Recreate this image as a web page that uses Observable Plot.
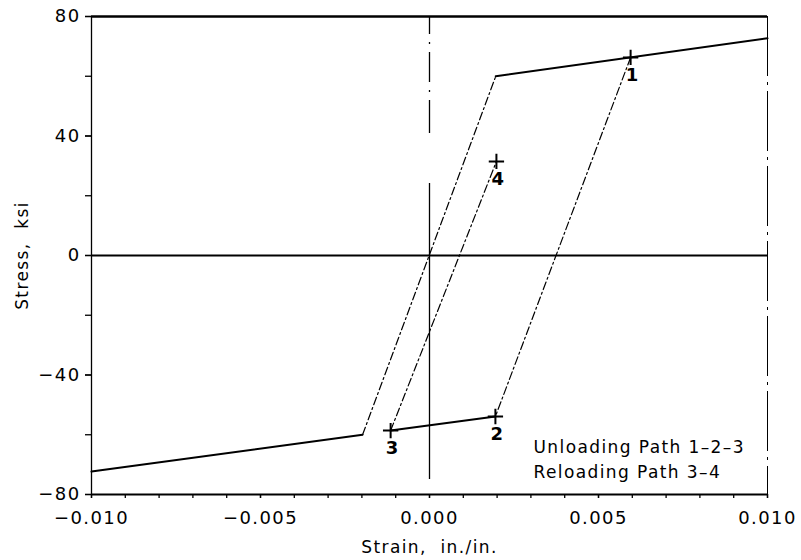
<!DOCTYPE html>
<html>
<head>
<meta charset="utf-8">
<script src="https://cdn.jsdelivr.net/npm/d3@7"></script>
<script src="https://cdn.jsdelivr.net/npm/@observablehq/plot@0.6"></script>
<style>
  html, body { margin: 0; padding: 0; background: #fff; }
  #chart { width: 801px; height: 560px; }
  #chart svg text { letter-spacing: 1.4px; }
</style>
</head>
<body>
<div id="chart"></div>
<script>
// Monotonic (envelope) stress–strain curve of the steel: strain in in./in., stress in ksi
const envelopeStrain = [-0.0100, -0.00198, 0.00196, 0.0100];
const envelopeStress = [-72.3, -60.0, 60.0, 72.7];

// Load-path points: unloading 1-2-3, reloading 3-4
const pathLabels = ["1", "2", "3", "4"];
const pathStrain = [0.00595, 0.00195, -0.00115, 0.00198];
const pathStress = [66.3, -53.9, -58.6, 31.5];

// Axis ticks
const xMajorTicks = [-0.010, -0.005, 0.000, 0.005, 0.010];
const xMinorTicks = [-0.010, -0.009, -0.008, -0.007, -0.006, -0.005, -0.004, -0.003, -0.002, -0.001,
                     0.000, 0.001, 0.002, 0.003, 0.004, 0.005, 0.006, 0.007, 0.008, 0.009, 0.010];
const yMajorTicks = [-80, -40, 0, 40, 80];
const yMinorTicks = [-80, -60, -40, -20, 0, 20, 40, 60, 80];

const xLabel = "Strain,\u00a0 in./in.";
const yLabel = "Stress,\u00a0 ksi";
const noteUnloading = "Unloading Path 1\u20132\u20133";
const noteReloading = "Reloading Path 3\u20134";

const env = envelopeStrain.map((x, i) => ({x, y: envelopeStress[i]}));
const pts = pathStrain.map((x, i) => ({x, y: pathStress[i], label: pathLabels[i]}));

const dashDot = "8,3,2,3";

const chart = Plot.plot({
  width: 801,
  height: 560,
  marginLeft: 91,
  marginRight: 34,
  marginTop: 16,
  marginBottom: 66,
  style: {fontFamily: "'DejaVu Sans', sans-serif", fontSize: "18px", color: "#000", background: "#fff"},
  x: {domain: [-0.01, 0.01]},
  y: {domain: [-80, 80]},
  marks: [
    // tick marks and tick labels
    Plot.axisX({ticks: xMinorTicks, tickSize: 4, tickFormat: () => "", label: null, strokeWidth: 1.3}),
    Plot.axisX({ticks: xMajorTicks, tickSize: 4, tickPadding: 13, tickFormat: d3.format(".3f"), label: null, strokeWidth: 1.3}),
    Plot.axisY({ticks: yMinorTicks, tickSize: 6, tickFormat: () => "", label: null, strokeWidth: 1.3}),
    Plot.axisY({ticks: yMajorTicks, tickSize: 6, tickPadding: 5, tickFormat: d3.format("d"), label: null, strokeWidth: 1.3}),

    // frame: solid top and bottom, solid left axis, dashed right edge
    Plot.ruleY([80], {strokeWidth: 2.5}),
    Plot.ruleY([-80], {strokeWidth: 2}),
    Plot.ruleX([-0.01], {strokeWidth: 1.3}),
    Plot.ruleX([0.01], {strokeWidth: 1, strokeDasharray: "60,6,3,6"}),

    // zero reference lines
    Plot.ruleY([0], {strokeWidth: 2}),
    Plot.ruleX([0], {y1: -75, y2: 80, strokeWidth: 1.3, strokeDasharray: "296,50,33,8,2,8,30,8,2,8,40"}),

    // envelope: plastic branches solid, elastic branch dash-dot
    Plot.line(env.slice(0, 2), {x: "x", y: "y", strokeWidth: 2}),
    Plot.line(env.slice(1, 3), {x: "x", y: "y", strokeWidth: 1.2, strokeDasharray: dashDot}),
    Plot.line(env.slice(2, 4), {x: "x", y: "y", strokeWidth: 2}),

    // unloading 1-2 (elastic), 2-3, reloading 3-4 (elastic)
    Plot.line(pts.slice(0, 2), {x: "x", y: "y", strokeWidth: 1.2, strokeDasharray: dashDot}),
    Plot.line(pts.slice(1, 3), {x: "x", y: "y", strokeWidth: 2}),
    Plot.line(pts.slice(2, 4), {x: "x", y: "y", strokeWidth: 1.2, strokeDasharray: dashDot}),

    // path points and their numbers
    Plot.dot(pts, {x: "x", y: "y", symbol: "plus", r: 5, stroke: "#000", strokeWidth: 2}),
    Plot.text(pts, {x: "x", y: "y", text: "label", dx: 2, dy: 18, fontSize: 18, fontWeight: "bold"}),

    // notes in the lower-right corner
    Plot.text([noteUnloading], {frameAnchor: "bottom-right", textAnchor: "start", lineAnchor: "middle",
                                dx: -234, dy: -47, fontSize: 17}),
    Plot.text([noteReloading], {frameAnchor: "bottom-right", textAnchor: "start", lineAnchor: "middle",
                                dx: -234, dy: -22, fontSize: 17}),

    // axis titles
    Plot.text([xLabel], {frameAnchor: "bottom", textAnchor: "middle", lineAnchor: "middle", dy: 53, fontSize: 17}),
    Plot.text([yLabel], {frameAnchor: "left", textAnchor: "middle", lineAnchor: "middle", dx: -69, rotate: -90, fontSize: 17})
  ]
});

document.getElementById("chart").appendChild(chart);
</script>
</body>
</html>
